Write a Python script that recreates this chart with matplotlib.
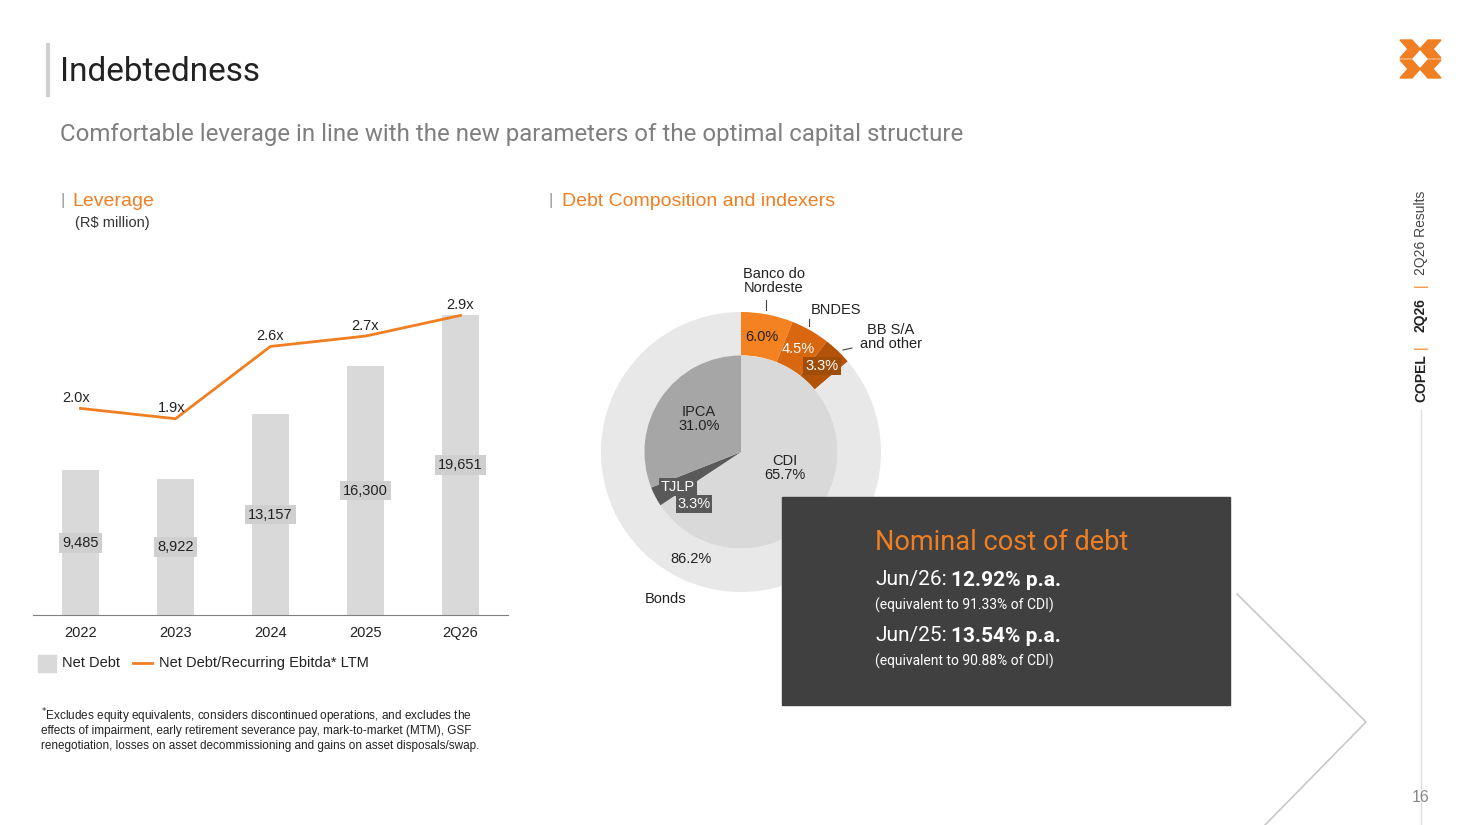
import matplotlib
matplotlib.use("Agg")
import matplotlib.pyplot as plt
from matplotlib.patches import Rectangle, Polygon
from matplotlib.lines import Line2D

years = ["2022", "2023", "2024", "2025", "2Q26"]
net_debt = [9485, 8922, 13157, 16300, 19651]
leverage = [2.0, 1.9, 2.6, 2.7, 2.9]
outer_labels = ["Banco do\nNordeste", "BNDES", "BB S/A\nand other", "Bonds"]
outer_vals = [6.0, 4.5, 3.3, 86.2]
inner_labels = ["CDI", "TJLP", "IPCA"]
inner_vals = [65.7, 3.3, 31.0]

W, H = 1467, 825
fig = plt.figure(figsize=(W/100, H/100), dpi=100)
plt.rcParams['font.family'] = ['Liberation Sans', 'DejaVu Sans']
NARROW = ['Roboto', 'DejaVu Sans']
ORANGE = '#f07f22'
GRAY = '#595959'

def fx(x): return x / W
def fy(y): return 1 - y / H
def T(x, y, s, **kw):
    return fig.text(fx(x), fy(y), s, **kw)

# header
fig.add_artist(Line2D([fx(48), fx(48)], [fy(45), fy(95)], color='#d0d0d0', lw=3))
T(60, 72, "Indebtedness", fontsize=24, family=NARROW, color='#222222', va='center')
T(60, 134, "Comfortable leverage in line with the new parameters of the optimal capital structure",
  fontsize=17.3, family=NARROW, color='#7f7f7f', va='center')
T(60, 201, "|", fontsize=12, color='#999999', va='center')
T(72, 201, "Leverage", fontsize=14, color=ORANGE, va='center')
T(75, 223, "(R$ million)", fontsize=10.5, color='#333333', va='center')
T(548, 201, "|", fontsize=12, color='#999999', va='center')
T(562, 201, "Debt Composition and indexers", fontsize=14, color=ORANGE, va='center')

# bar chart
ax = fig.add_axes([fx(33), fy(615), fx(508) - fx(33), (615 - 285) / H])
x = list(range(len(years)))
ymax = 19651 * 330 / 300
ax.bar(x, net_debt, width=0.39, color='#d9d9d9')
ax.set_ylim(0, ymax)
ax.set_xlim(-0.5, 4.5)
for i, v in enumerate(net_debt):
    ax.text(i, v * 0.5, f"{v:,}", ha='center', va='center', fontsize=10.5, color='#222222',
            bbox=dict(boxstyle='square,pad=0.2', fc='#cfcfcf', ec='none'))
for s in ['top', 'right', 'left']:
    ax.spines[s].set_visible(False)
ax.spines['bottom'].set_color('#808080')
ax.set_yticks([])
ax.set_xticks(x)
ax.set_xticklabels(years, fontsize=10.5, color='#222222')
ax.tick_params(axis='x', length=0, pad=8)
ax2 = ax.twinx()
ax2.plot(x, leverage, color=ORANGE, lw=2)
ax2.set_ylim(0, 330 / 103.3)
ax2.axis('off')
for i, v in enumerate(leverage):
    ax2.annotate(f"{v:.1f}x", (i, v), xytext=(-3 if i < 2 else 0, 2.5), textcoords='offset points',
                 ha='center', va='bottom', fontsize=10.5, color='#222222')

# legend
fig.add_artist(Rectangle((fx(38), fy(672)), fx(18), 17 / H, color='#d9d9d9'))
T(62, 663, "Net Debt", fontsize=10.5, va='center', color='#222222')
fig.add_artist(Line2D([fx(133), fx(152)], [fy(663), fy(663)], color=ORANGE, lw=2))
T(159, 663, "Net Debt/Recurring Ebitda* LTM", fontsize=10.5, va='center', color='#222222')

foot = ["$^{*}$Excludes equity equivalents, considers discontinued operations, and excludes the",
        "effects of impairment, early retirement severance pay, mark-to-market (MTM), GSF",
        "renegotiation, losses on asset decommissioning and gains on asset disposals/swap."]
for k, s in enumerate(foot):
    T(41, 716 + 15 * k, s, fontsize=8.5, va='center', color='#222222')

# donut
R = 140
axd = fig.add_axes([fx(741 - R), fy(452 + R), 2 * R / W, 2 * R / H])
axd.pie(outer_vals, radius=1, startangle=90, counterclock=False,
        colors=['#f58220', '#d8670f', '#b35309', '#e8e8e8'], wedgeprops=dict(width=0.31))
axd.pie(inner_vals, radius=0.69, startangle=90, counterclock=False,
        colors=['#d9d9d9', GRAY, '#a6a6a6'])
axd.set_xlim(-1, 1); axd.set_ylim(-1, 1); axd.axis('off')

T(762, 337, f"{outer_vals[0]:.1f}%", fontsize=10.5, ha='center', va='center', color='#222222')
T(798, 349, f"{outer_vals[1]:.1f}%", fontsize=10.5, ha='center', va='center', color='white')
T(822, 366, f"{outer_vals[2]:.1f}%", fontsize=10.5, ha='center', va='center', color='white',
  bbox=dict(boxstyle='square,pad=0.15', fc='#a04d0a', ec='none'))
T(691, 559, f"{outer_vals[3]:.1f}%", fontsize=10.5, ha='center', va='center', color='#222222')
T(774, 281, outer_labels[0], fontsize=10.5, ha='center', va='center', color='#222222', linespacing=1.0)
T(836, 310, outer_labels[1], fontsize=10.5, ha='center', va='center', color='#222222')
T(891, 337, outer_labels[2], fontsize=10.5, ha='center', va='center', color='#222222', linespacing=1.0)
T(666, 599, outer_labels[3], fontsize=10.5, ha='center', va='center', color='#222222')
fig.add_artist(Line2D([fx(766), fx(766)], [fy(300), fy(310)], color='#444', lw=0.8))
fig.add_artist(Line2D([fx(809), fx(809)], [fy(319), fy(326)], color='#444', lw=0.8))
fig.add_artist(Line2D([fx(843), fx(852)], [fy(350), fy(348)], color='#444', lw=0.8))
T(785, 468, f"{inner_labels[0]}\n{inner_vals[0]:.1f}%", fontsize=10.5, ha='center', va='center',
  color='#222222', linespacing=1.0)
T(699, 419, f"{inner_labels[2]}\n{inner_vals[2]:.1f}%", fontsize=10.5, ha='center', va='center',
  color='#222222', linespacing=1.0)
T(678, 487, inner_labels[1], fontsize=10.5, ha='center', va='center', color='white',
  bbox=dict(boxstyle='square,pad=0.12', fc=GRAY, ec='none'))
T(694, 504, f"{inner_vals[1]:.1f}%", fontsize=10.5, ha='center', va='center', color='white',
  bbox=dict(boxstyle='square,pad=0.12', fc=GRAY, ec='none'))

# chevron line
fig.add_artist(Line2D([fx(1237), fx(1366), fx(1265)], [fy(594), fy(722), fy(825)], color='#c8c8c8', lw=1.2))

# dark box
fig.add_artist(Rectangle((fx(782), fy(705)), (1230 - 782) / W, (705 - 497) / H, color='#404040'))
T(875, 543, "Nominal cost of debt", fontsize=19.5, family=NARROW, color=ORANGE, va='center')
T(875, 580, "Jun/26:", fontsize=15, family=NARROW, color='white', va='center')
T(951, 580, "12.92% p.a.", fontsize=15, family=NARROW, weight='bold', color='white', va='center')
T(875, 605, "(equivalent to 91.33% of CDI)", fontsize=10, family=NARROW, color='white', va='center')
T(875, 636, "Jun/25:", fontsize=15, family=NARROW, color='white', va='center')
T(951, 636, "13.54% p.a.", fontsize=15, family=NARROW, weight='bold', color='white', va='center')
T(875, 661, "(equivalent to 90.88% of CDI)", fontsize=10, family=NARROW, color='white', va='center')

# logo
def poly(pts):
    fig.add_artist(Polygon([(fx(a), fy(b)) for a, b in pts], closed=True, color=ORANGE))
poly([(1400, 40), (1412, 40), (1420, 49), (1412, 58), (1400, 58), (1408, 49)])
poly([(1428, 40), (1441, 40), (1433, 49), (1441, 58), (1428, 58), (1420, 49)])
poly([(1400, 60), (1412, 60), (1420, 69), (1412, 78), (1400, 78), (1408, 69)])
poly([(1428, 60), (1441, 60), (1433, 69), (1441, 78), (1428, 78), (1420, 69)])

# side text
kw = dict(rotation=90, ha='center', va='center', fontsize=10)
T(1421, 378, "COPEL", weight='bold', color='#222222', **kw)
T(1421, 347, "|", color=ORANGE, **kw)
T(1421, 315, "2Q26", weight='bold', color='#222222', **kw)
T(1421, 285, "|", color=ORANGE, **kw)
T(1421, 233, "2Q26 Results", color='#444444', **kw)
fig.add_artist(Line2D([fx(1421), fx(1421)], [fy(410), fy(825)], color='#e0e0e0', lw=1))
T(1421, 797, "16", fontsize=11.5, ha='center', va='center', color='#888888')

fig.savefig("out.png", dpi=100, facecolor='white')
